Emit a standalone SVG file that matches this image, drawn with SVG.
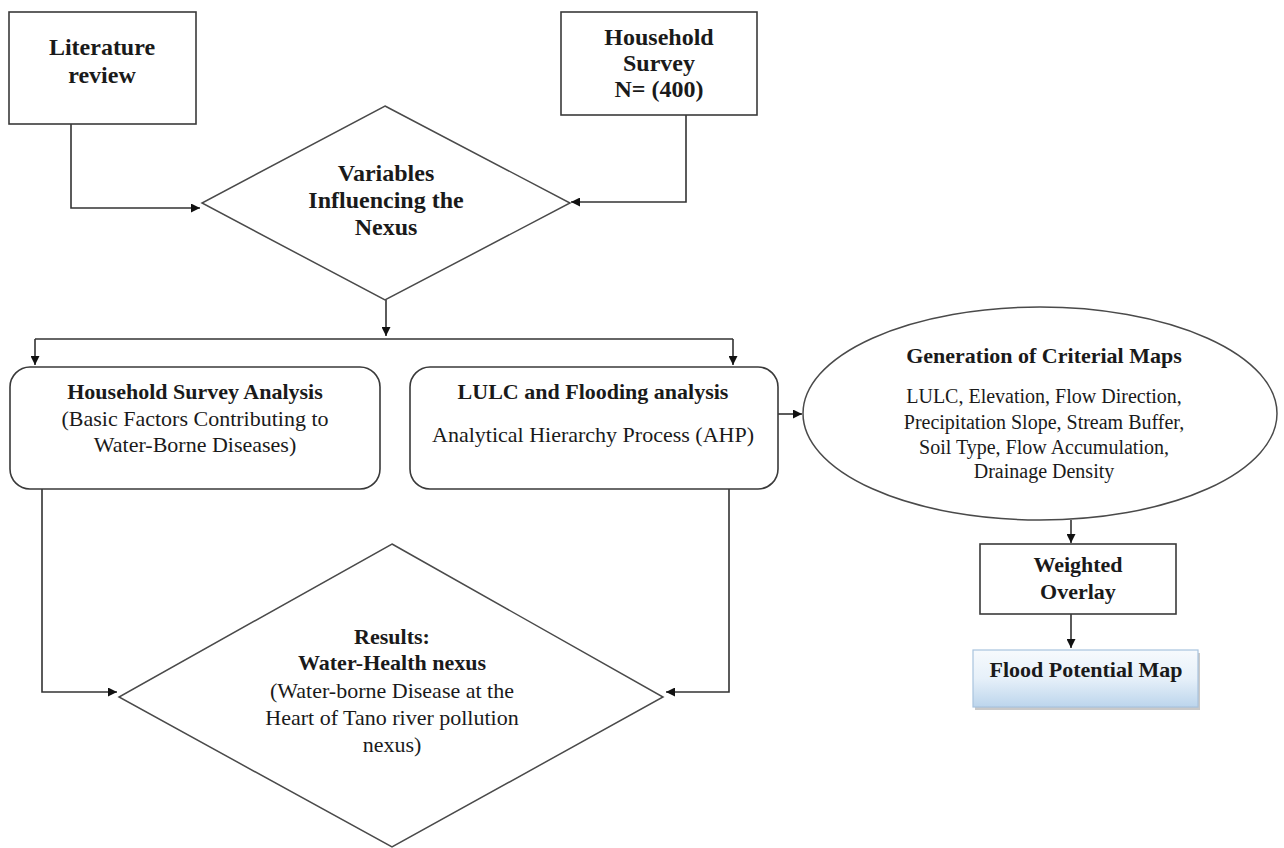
<svg xmlns="http://www.w3.org/2000/svg" width="1284" height="848" viewBox="0 0 1284 848">
<style>
.box{fill:#fff;stroke:#3a3a3a;stroke-width:1.6}
.dia{fill:#fff;stroke:#4a4a4a;stroke-width:1.5}
.con{fill:none;stroke:#333;stroke-width:1.6}
text{font-family:"Liberation Serif","Times New Roman",serif;fill:#1a1a1a;text-anchor:middle}
.b{font-weight:bold}
.t24{font-size:24px}
.t22{font-size:22px}
.t20{font-size:20px}
</style>
<defs>
<marker id="ah" viewBox="0 0 10 10" refX="10" refY="5" markerWidth="10" markerHeight="9" markerUnits="userSpaceOnUse" orient="auto">
<path d="M0,0 L10,5 L0,10 Z" fill="#111"/>
</marker>
<linearGradient id="fg" x1="0" y1="0" x2="0" y2="1">
<stop offset="0" stop-color="#f7fafd"/>
<stop offset="0.5" stop-color="#e6f0f9"/>
<stop offset="1" stop-color="#bcd5ec"/>
</linearGradient>
</defs>
<rect width="1284" height="848" fill="#fff"/>

<g id="connectors">
<path class="con" d="M71,124 V208 H200" marker-end="url(#ah)"/>
<path class="con" d="M686,115 V202 H571" marker-end="url(#ah)"/>
<path class="con" d="M386,300 V336" marker-end="url(#ah)"/>
<path class="con" d="M35,339 H733"/>
<path class="con" d="M35,339 V365" marker-end="url(#ah)"/>
<path class="con" d="M733,339 V365" marker-end="url(#ah)"/>
<path class="con" d="M778,414 H802" marker-end="url(#ah)"/>
<path class="con" d="M42,489 V692 H117" marker-end="url(#ah)"/>
<path class="con" d="M729,489 V692 H666" marker-end="url(#ah)"/>
<path class="con" d="M1071,520 V543" marker-end="url(#ah)"/>
<path class="con" d="M1071,614 V648" marker-end="url(#ah)"/>
</g>

<g id="literature">
<rect class="box" x="9" y="12" width="187" height="112"/>
<text class="b t24" x="102" y="55">Literature</text>
<text class="b t24" x="102" y="83">review</text>
</g>

<g id="survey">
<rect class="box" x="561" y="12" width="196" height="103"/>
<text class="b t24" x="659" y="45">Household</text>
<text class="b t24" x="659" y="71">Survey</text>
<text class="b t24" x="659" y="97">N= (400)</text>
</g>

<g id="variables">
<polygon class="dia" points="385,106 570,203 385,300 202,203"/>
<text class="b t24" x="386" y="181">Variables</text>
<text class="b t24" x="386" y="208">Influencing the</text>
<text class="b t24" x="386" y="235">Nexus</text>
</g>

<g id="hsa">
<rect class="box" x="10" y="367" width="370" height="122" rx="20" ry="20"/>
<text class="b t22" x="195" y="399">Household Survey Analysis</text>
<text class="t22" x="195" y="426">(Basic Factors Contributing to</text>
<text class="t22" x="195" y="452">Water-Borne Diseases)</text>
</g>

<g id="lulc">
<rect class="box" x="410" y="367" width="368" height="122" rx="20" ry="20"/>
<text class="b t22" x="593" y="399">LULC and Flooding analysis</text>
<text class="t22" x="593" y="442">Analytical Hierarchy Process (AHP)</text>
</g>

<g id="criterial">
<ellipse class="dia" cx="1040" cy="413.5" rx="237" ry="106.5"/>
<text class="b t22" x="1044" y="363">Generation of Criterial Maps</text>
<text class="t20" x="1044" y="403">LULC, Elevation, Flow Direction,</text>
<text class="t20" x="1044" y="429">Precipitation Slope, Stream Buffer,</text>
<text class="t20" x="1044" y="454">Soil Type, Flow Accumulation,</text>
<text class="t20" x="1044" y="478">Drainage Density</text>
</g>

<g id="weighted">
<rect class="box" x="980" y="544" width="196" height="70"/>
<text class="b t22" x="1078" y="572">Weighted</text>
<text class="b t22" x="1078" y="599">Overlay</text>
</g>

<g id="flood">
<rect x="975" y="653" width="225" height="57" fill="#c9c9c9"/>
<rect x="973" y="650" width="225" height="57" fill="url(#fg)" stroke="#a8c3de" stroke-width="1.2"/>
<text class="b t22" x="1086" y="677">Flood Potential Map</text>
</g>

<g id="results">
<polygon class="dia" points="392,544 663,697 392,847 119,697"/>
<text class="b t22" x="392" y="644">Results:</text>
<text class="b t22" x="392" y="670">Water-Health nexus</text>
<text class="t22" x="392" y="698">(Water-borne Disease at the</text>
<text class="t22" x="392" y="725">Heart of Tano river pollution</text>
<text class="t22" x="392" y="752">nexus)</text>
</g>
</svg>
